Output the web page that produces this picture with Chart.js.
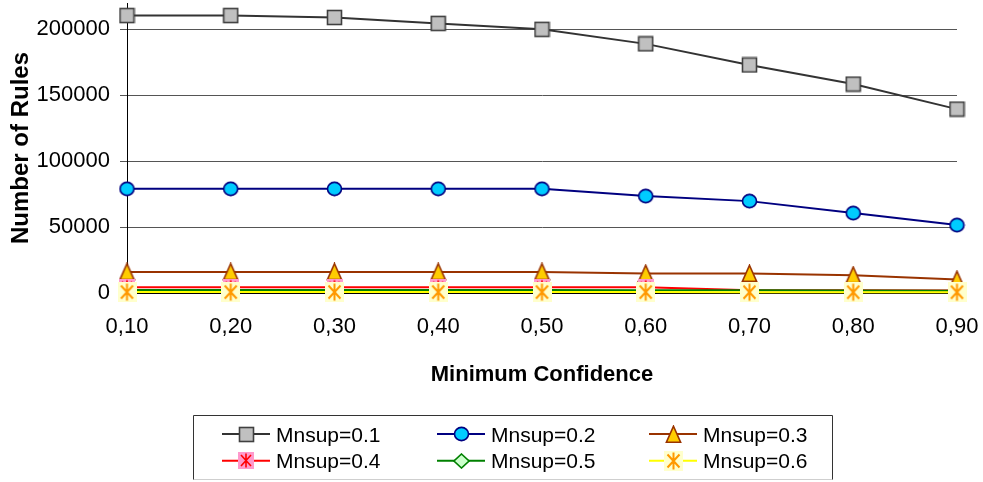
<!DOCTYPE html>
<html>
<head>
<meta charset="utf-8">
<title>Number of Rules vs Minimum Confidence</title>
<script src="https://cdn.jsdelivr.net/npm/chart.js@4/dist/chart.umd.min.js"></script>
<style>
  html, body { margin: 0; padding: 0; background: #fff; }
  #wrap { width: 983px; height: 482px; }
</style>
</head>
<body>
<div id="wrap"><canvas id="rules" width="983" height="482"></canvas></div>
<script>
// Minimum confidence thresholds (category axis)
const confidence = ['0,10', '0,20', '0,30', '0,40', '0,50', '0,60', '0,70', '0,80', '0,90'];

// Number of generated rules for each minimum support value
const mnsup01 = [210500, 210500, 209000, 204500, 200000, 189000, 173000, 158500, 139500];
const mnsup02 = [79000, 79000, 79000, 79000, 79000, 73500, 69700, 60600, 51500];
const mnsup03 = [16000, 16000, 16000, 16000, 16000, 14800, 14700, 13500, 10200];
const mnsup04 = [4400, 4400, 4400, 4400, 4400, 4300, 2100, 2000, 1900];
const mnsup05 = [2200, 2200, 2200, 2200, 2200, 2100, 2000, 1900, 1800];
const mnsup06 = [700, 700, 700, 700, 700, 700, 600, 600, 600];

const seriesNames = ['Mnsup=0.1', 'Mnsup=0.2', 'Mnsup=0.3', 'Mnsup=0.4', 'Mnsup=0.5', 'Mnsup=0.6'];

// Y-axis tick values shown on the value axis
const yTicks = [0, 50000, 100000, 150000, 200000];

// ---- marker images -------------------------------------------------------
function marker(w, h, paint) {
  const c = document.createElement('canvas');
  c.width = w; c.height = h;
  paint(c.getContext('2d'), w, h);
  return c;
}

const squareMarker = marker(17, 17, (g) => {
  g.fillStyle = '#C0C0C0'; g.strokeStyle = '#404040'; g.lineWidth = 1.6;
  g.fillRect(1.5, 1.5, 14, 14); g.strokeRect(1.5, 1.5, 14, 14);
});
const circleMarker = marker(17, 16, (g) => {
  g.fillStyle = '#00CCFF'; g.strokeStyle = '#000080'; g.lineWidth = 1.6;
  g.beginPath(); g.ellipse(8.5, 8, 7, 6.6, 0, 0, Math.PI * 2); g.fill(); g.stroke();
});
const triangleMarker = marker(17, 19, (g) => {
  g.fillStyle = '#FFCC00'; g.strokeStyle = '#993300'; g.lineWidth = 1.6;
  g.beginPath(); g.moveTo(8.5, 1.2); g.lineTo(15.6, 17.2); g.lineTo(1.4, 17.2); g.closePath();
  g.fill(); g.stroke();
});
const starMarker = marker(16, 17, (g, w, h) => {
  g.fillStyle = '#FF99CC'; g.fillRect(0, 0, w, h);
  g.strokeStyle = '#FF0000'; g.lineWidth = 1.6;
  g.beginPath();
  g.moveTo(3, 3); g.lineTo(13, 14); g.moveTo(13, 3); g.lineTo(3, 14);
  g.moveTo(8, 1.5); g.lineTo(8, 15.5);
  g.stroke();
});
const diamondMarker = marker(17, 16, (g) => {
  g.fillStyle = '#CCFFCC'; g.strokeStyle = '#008000'; g.lineWidth = 1.6;
  g.beginPath(); g.moveTo(8.5, 1); g.lineTo(16, 8); g.lineTo(8.5, 15); g.lineTo(1, 8); g.closePath();
  g.fill(); g.stroke();
});
const asteriskMarker = marker(19, 20, (g, w, h) => {
  g.fillStyle = '#FFFFCC'; g.fillRect(0, 0, w, h);
  g.strokeStyle = '#FF9900'; g.lineWidth = 2;
  g.beginPath();
  g.moveTo(3.5, 3.5); g.lineTo(15.5, 16.5); g.moveTo(15.5, 3.5); g.lineTo(3.5, 16.5);
  g.moveTo(9.5, 1.5); g.lineTo(9.5, 18.5);
  g.stroke();
});

// ---- datasets ------------------------------------------------------------
function series(i, data, color, pointImg) {
  return {
    label: seriesNames[i],
    data: data,
    borderColor: color,
    backgroundColor: color,
    borderWidth: 2,
    pointStyle: pointImg,
    pointRadius: 8,
    tension: 0,
    clip: false,
    order: 6 - i   // later series are painted over earlier ones
  };
}

const datasets = [
  series(0, mnsup01, '#333333', squareMarker),
  series(1, mnsup02, '#000080', circleMarker),
  series(2, mnsup03, '#993300', triangleMarker),
  series(3, mnsup04, '#FF0000', starMarker),
  series(4, mnsup05, '#008000', diamondMarker),
  series(5, mnsup06, '#FFFF00', asteriskMarker)
];

// ---- framed legend below the axis title -----------------------------------
const framedLegend = {
  id: 'framedLegend',
  afterDraw(chart) {
    const ctx = chart.ctx;
    const box = { left: 193.5, top: 415.5, right: 832.5, bottom: 479.5 };
    const colX = [222, 437, 649];
    const rowY = [434, 460.7];
    const baseY = [441.5, 468.2];
    ctx.save();
    ctx.lineWidth = 1;
    ctx.strokeStyle = '#CFCFCF';
    ctx.beginPath(); ctx.moveTo(box.left, box.bottom); ctx.lineTo(box.right, box.bottom); ctx.stroke();
    ctx.strokeStyle = '#333333';
    ctx.beginPath();
    ctx.moveTo(box.left, box.bottom); ctx.lineTo(box.left, box.top);
    ctx.lineTo(box.right, box.top); ctx.lineTo(box.right, box.bottom);
    ctx.stroke();

    ctx.font = '21px "Liberation Sans", Arial, sans-serif';
    ctx.textBaseline = 'alphabetic';
    ctx.textAlign = 'left';
    chart.data.datasets.forEach((ds, i) => {
      const x0 = colX[i % 3];
      const row = Math.floor(i / 3);
      const y = rowY[row];
      ctx.strokeStyle = ds.borderColor;
      ctx.lineWidth = 2;
      ctx.beginPath(); ctx.moveTo(x0, y); ctx.lineTo(x0 + 48, y); ctx.stroke();
      const img = ds.pointStyle;
      ctx.drawImage(img, Math.round(x0 + 24 - img.width / 2), Math.round(y - img.height / 2));
      ctx.fillStyle = '#000';
      ctx.fillText(ds.label, x0 + 54, baseY[row]);
    });
    ctx.restore();
  }
};

const whiteBackground = {
  id: 'whiteBackground',
  beforeDraw(chart) {
    const ctx = chart.ctx;
    ctx.save();
    ctx.fillStyle = '#fff';
    ctx.fillRect(0, 0, chart.width, chart.height);
    ctx.restore();
  }
};

new Chart(document.getElementById('rules'), {
  type: 'line',
  data: { labels: confidence, datasets: datasets },
  options: {
    responsive: false,
    animation: false,
    devicePixelRatio: 1,
    events: [],
    layout: { autoPadding: false, padding: { top: 3, left: 0, right: 26, bottom: 94 } },
    plugins: {
      legend: { display: false },
      tooltip: { enabled: false }
    },
    scales: {
      x: {
        type: 'category',
        offset: false,
        grid: { display: true, drawOnChartArea: false, drawTicks: true, tickLength: 7, color: '#333' },
        border: { display: true, color: '#000', width: 1 },
        ticks: {
          color: '#000',
          padding: 14,
          maxRotation: 0,
          autoSkip: false,
          font: { family: '"Liberation Sans", Arial, sans-serif', size: 22 }
        },
        title: {
          display: true,
          text: 'Minimum Confidence',
          color: '#000',
          padding: { top: 0, bottom: 0 },
          font: { family: '"Liberation Sans", Arial, sans-serif', size: 22, weight: 'bold' }
        },
        afterFit(scale) {
          scale.height = 95;
          scale.paddingLeft = 0;
          scale.paddingRight = 0;
        }
      },
      y: {
        min: 0,
        max: 220000,
        grid: { color: '#555', lineWidth: 1, drawTicks: true, tickLength: 7 },
        border: { display: true, color: '#000', width: 1 },
        ticks: {
          stepSize: 50000,
          color: '#000',
          padding: 10,
          font: { family: '"Liberation Sans", Arial, sans-serif', size: 22 },
          callback: (v) => String(v)
        },
        afterBuildTicks(scale) {
          scale.ticks = yTicks.map(v => ({ value: v }));
        },
        title: {
          display: true,
          text: 'Number of Rules',
          color: '#000',
          padding: { top: 7, bottom: 0 },
          font: { family: '"Liberation Sans", Arial, sans-serif', size: 24, weight: 'bold' }
        },
        afterFit(scale) {
          scale.width = 127;
          scale.paddingTop = 0;
          scale.paddingBottom = 0;
        }
      }
    }
  },
  plugins: [whiteBackground, framedLegend]
});
</script>
</body>
</html>
